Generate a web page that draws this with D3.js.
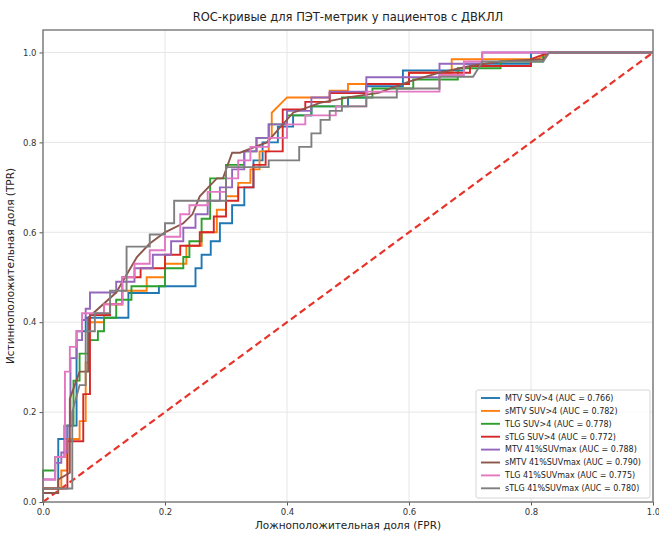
<!DOCTYPE html>
<html>
<head>
<meta charset="utf-8">
<script src="https://cdn.jsdelivr.net/npm/d3@7"></script>
<style>
  body { margin: 0; background: #fff; }
  text { font-family: "DejaVu Sans", sans-serif; }
</style>
</head>
<body>
<div id="chart"></div>
<script>
// ROC points, [fpr, tpr]
const mtvSuv4 = [[0,0],[0,0.03],[0.025,0.03],[0.025,0.14],[0.04,0.14],[0.04,0.17],[0.055,0.17],[0.055,0.38],[0.07,0.38],[0.07,0.41],[0.14,0.41],[0.14,0.465],[0.19,0.465],[0.19,0.48],[0.25,0.48],[0.25,0.52],[0.26,0.52],[0.26,0.55],[0.275,0.55],[0.275,0.58],[0.29,0.58],[0.29,0.62],[0.31,0.62],[0.31,0.66],[0.33,0.66],[0.33,0.7],[0.345,0.7],[0.345,0.76],[0.36,0.76],[0.36,0.8],[0.385,0.8],[0.385,0.835],[0.41,0.835],[0.41,0.86],[0.44,0.86],[0.44,0.88],[0.5,0.88],[0.5,0.9],[0.53,0.9],[0.53,0.925],[0.59,0.925],[0.59,0.96],[0.69,0.96],[0.69,0.975],[0.8,0.975],[0.8,1],[1,1]];
const smtvSuv4 = [[0,0],[0,0.03],[0.03,0.03],[0.03,0.07],[0.04,0.07],[0.04,0.14],[0.06,0.14],[0.06,0.18],[0.07,0.18],[0.07,0.31],[0.075,0.31],[0.075,0.4],[0.1,0.4],[0.1,0.44],[0.13,0.44],[0.13,0.47],[0.17,0.47],[0.17,0.5],[0.2,0.5],[0.2,0.53],[0.235,0.53],[0.235,0.57],[0.26,0.57],[0.26,0.6],[0.285,0.6],[0.285,0.65],[0.3,0.65],[0.3,0.68],[0.32,0.68],[0.32,0.71],[0.34,0.71],[0.34,0.74],[0.355,0.74],[0.355,0.78],[0.37,0.78],[0.37,0.81],[0.375,0.81],[0.375,0.866],[0.4,0.9],[0.47,0.9],[0.47,0.915],[0.5,0.915],[0.5,0.93],[0.6,0.93],[0.6,0.955],[0.67,0.955],[0.67,0.985],[0.81,0.985],[0.83,1],[1,1]];
const tlgSuv4 = [[0,0],[0,0.07],[0.02,0.07],[0.02,0.1],[0.035,0.1],[0.035,0.17],[0.05,0.17],[0.05,0.27],[0.06,0.27],[0.06,0.33],[0.075,0.33],[0.075,0.36],[0.09,0.36],[0.09,0.38],[0.1,0.38],[0.1,0.41],[0.12,0.41],[0.12,0.45],[0.145,0.45],[0.145,0.48],[0.2,0.48],[0.2,0.52],[0.23,0.52],[0.23,0.545],[0.24,0.545],[0.24,0.58],[0.26,0.58],[0.26,0.63],[0.274,0.63],[0.274,0.72],[0.3,0.72],[0.3,0.75],[0.33,0.75],[0.33,0.78],[0.35,0.78],[0.35,0.81],[0.37,0.81],[0.37,0.84],[0.4,0.84],[0.4,0.86],[0.44,0.86],[0.44,0.88],[0.49,0.88],[0.49,0.9],[0.54,0.9],[0.54,0.92],[0.607,0.92],[0.607,0.94],[0.68,0.94],[0.68,0.965],[0.75,0.965],[0.75,0.98],[0.82,0.98],[0.82,1],[1,1]];
const stlgSuv4 = [[0,0],[0,0.03],[0.04,0.03],[0.04,0.135],[0.066,0.135],[0.066,0.24],[0.077,0.24],[0.077,0.416],[0.11,0.416],[0.11,0.44],[0.13,0.44],[0.13,0.5],[0.16,0.5],[0.16,0.52],[0.2,0.52],[0.2,0.55],[0.225,0.55],[0.225,0.57],[0.257,0.57],[0.257,0.6],[0.28,0.6],[0.28,0.635],[0.3,0.635],[0.3,0.67],[0.32,0.67],[0.32,0.7],[0.345,0.7],[0.345,0.75],[0.365,0.75],[0.365,0.78],[0.393,0.78],[0.393,0.873],[0.43,0.873],[0.43,0.89],[0.47,0.89],[0.47,0.91],[0.53,0.91],[0.53,0.93],[0.6,0.93],[0.6,0.955],[0.7,0.955],[0.7,0.97],[0.8,0.97],[0.8,0.985],[0.83,1],[1,1]];
const mtv41 = [[0,0],[0,0.05],[0.02,0.05],[0.02,0.087],[0.03,0.087],[0.03,0.11],[0.04,0.11],[0.04,0.17],[0.045,0.17],[0.045,0.32],[0.055,0.32],[0.055,0.36],[0.064,0.36],[0.064,0.405],[0.07,0.405],[0.07,0.43],[0.077,0.43],[0.077,0.466],[0.12,0.466],[0.12,0.49],[0.15,0.49],[0.15,0.52],[0.18,0.52],[0.18,0.55],[0.21,0.55],[0.21,0.58],[0.23,0.58],[0.23,0.61],[0.25,0.61],[0.25,0.64],[0.27,0.64],[0.27,0.67],[0.29,0.67],[0.29,0.7],[0.31,0.7],[0.31,0.74],[0.33,0.74],[0.33,0.78],[0.35,0.78],[0.35,0.81],[0.37,0.81],[0.37,0.84],[0.4,0.84],[0.4,0.87],[0.44,0.87],[0.44,0.9],[0.47,0.9],[0.47,0.913],[0.53,0.913],[0.53,0.945],[0.65,0.945],[0.65,0.975],[0.72,0.975],[0.72,1],[1,1]];
const smtv41 = [[0,0],[0,0.02],[0.025,0.02],[0.025,0.05],[0.044,0.065],[0.044,0.23],[0.06,0.29],[0.074,0.29],[0.074,0.41],[0.12,0.466],[0.126,0.48],[0.154,0.545],[0.175,0.575],[0.2,0.6],[0.23,0.62],[0.245,0.64],[0.257,0.68],[0.285,0.72],[0.295,0.72],[0.31,0.777],[0.323,0.777],[0.367,0.8],[0.41,0.866],[0.454,0.888],[0.5,0.9],[0.55,0.91],[0.6,0.935],[0.65,0.955],[0.7,0.97],[0.75,0.98],[0.82,0.985],[0.83,1],[1,1]];
const tlg41 = [[0,0],[0,0.05],[0.02,0.05],[0.02,0.1],[0.036,0.1],[0.036,0.29],[0.044,0.29],[0.044,0.345],[0.055,0.345],[0.055,0.38],[0.064,0.38],[0.064,0.42],[0.1,0.42],[0.1,0.44],[0.13,0.44],[0.13,0.5],[0.15,0.5],[0.15,0.53],[0.175,0.53],[0.175,0.56],[0.2,0.56],[0.2,0.59],[0.225,0.59],[0.225,0.64],[0.24,0.64],[0.24,0.66],[0.27,0.66],[0.27,0.69],[0.3,0.69],[0.3,0.72],[0.32,0.72],[0.32,0.76],[0.34,0.76],[0.34,0.79],[0.37,0.79],[0.37,0.81],[0.4,0.81],[0.4,0.84],[0.43,0.84],[0.43,0.86],[0.48,0.86],[0.48,0.88],[0.53,0.88],[0.53,0.913],[0.65,0.913],[0.65,0.95],[0.69,0.95],[0.69,0.98],[0.72,0.98],[0.72,1],[1,1]];
const stlg41 = [[0,0],[0,0.03],[0.048,0.03],[0.048,0.2],[0.06,0.26],[0.07,0.26],[0.07,0.38],[0.085,0.38],[0.085,0.42],[0.11,0.42],[0.11,0.47],[0.137,0.47],[0.137,0.568],[0.175,0.568],[0.175,0.595],[0.2,0.595],[0.2,0.62],[0.215,0.62],[0.215,0.67],[0.3,0.67],[0.3,0.745],[0.37,0.745],[0.37,0.76],[0.42,0.76],[0.42,0.79],[0.44,0.79],[0.44,0.82],[0.455,0.82],[0.455,0.85],[0.47,0.85],[0.47,0.87],[0.49,0.87],[0.49,0.88],[0.53,0.88],[0.53,0.9],[0.58,0.9],[0.58,0.92],[0.65,0.92],[0.65,0.946],[0.705,0.946],[0.716,0.97],[0.72,0.98],[0.82,0.98],[0.83,1],[1,1]];

const seriesNames = ["MTV SUV>4", "sMTV SUV>4", "TLG SUV>4", "sTLG SUV>4",
  "MTV 41%SUVmax", "sMTV 41%SUVmax", "TLG 41%SUVmax", "sTLG 41%SUVmax"];
const aucValues = [0.766, 0.782, 0.778, 0.772, 0.788, 0.790, 0.775, 0.780];
const seriesPoints = [mtvSuv4, smtvSuv4, tlgSuv4, stlgSuv4, mtv41, smtv41, tlg41, stlg41];
const ticks = [0, 0.2, 0.4, 0.6, 0.8, 1.0];

const colors = ["#1f77b4", "#ff7f0e", "#2ca02c", "#d62728",
  "#9467bd", "#8c564b", "#e377c2", "#7f7f7f"];

const svgWidth = 659, svgHeight = 534;
const margin = {top: 30, right: 6, bottom: 32, left: 43};
const width = svgWidth - margin.left - margin.right;
const height = svgHeight - margin.top - margin.bottom;

const svg = d3.select("#chart").append("svg")
  .attr("width", svgWidth)
  .attr("height", svgHeight);

const x = d3.scaleLinear().domain([0, 1]).range([0, width]);
const y = d3.scaleLinear().domain([0, 1.05]).range([height, 0]);

const g = svg.append("g")
  .attr("transform", "translate(" + margin.left + "," + margin.top + ")");

// grid
g.append("g").selectAll("line").data(ticks).enter().append("line")
  .attr("x1", d => x(d)).attr("x2", d => x(d))
  .attr("y1", 0).attr("y2", height)
  .attr("stroke", "#e6e6e6").attr("stroke-width", 1);
g.append("g").selectAll("line").data(ticks).enter().append("line")
  .attr("x1", 0).attr("x2", width)
  .attr("y1", d => y(d)).attr("y2", d => y(d))
  .attr("stroke", "#e6e6e6").attr("stroke-width", 1);

// axes
const xAxis = g.append("g")
  .attr("transform", "translate(0," + height + ")")
  .call(d3.axisBottom(x).tickValues(ticks).tickFormat(d3.format(".1f")).tickSize(3.5).tickPadding(3));
const yAxis = g.append("g")
  .call(d3.axisLeft(y).tickValues(ticks).tickFormat(d3.format(".1f")).tickSize(3.5).tickPadding(3));
[xAxis, yAxis].forEach(a => {
  a.select(".domain").remove();
  a.selectAll(".tick line").attr("stroke", "#555");
  a.selectAll(".tick text").attr("fill", "#333").style("font-size", "8.5px");
});

// chance line
g.append("line")
  .attr("x1", x(0)).attr("y1", y(0))
  .attr("x2", x(1)).attr("y2", y(1))
  .attr("stroke", "#e8332a").attr("stroke-width", 2.2)
  .attr("stroke-dasharray", "7,4");

const line = d3.line().x(d => x(d[0])).y(d => y(d[1]));

g.selectAll(".roc")
  .data(seriesPoints)
  .enter().append("path")
    .attr("class", "roc")
    .attr("d", line)
    .attr("fill", "none")
    .attr("stroke", (d, i) => colors[i])
    .attr("stroke-width", 1.9)
    .attr("stroke-linejoin", "miter");

// frame
g.append("rect")
  .attr("width", width).attr("height", height)
  .attr("fill", "none").attr("stroke", "#777").attr("stroke-width", 1.4);

// title and labels
svg.append("text")
  .attr("x", margin.left + width / 2).attr("y", 21)
  .attr("text-anchor", "middle")
  .style("font-size", "11.5px").attr("fill", "#222")
  .text("ROC-кривые для ПЭТ-метрик у пациентов с ДВКЛЛ");

svg.append("text")
  .attr("x", margin.left + width / 2).attr("y", 529)
  .attr("text-anchor", "middle")
  .style("font-size", "10.5px").attr("fill", "#222")
  .text("Ложноположительная доля (FPR)");

svg.append("text")
  .attr("transform", "translate(14," + (margin.top + height / 2) + ") rotate(-90)")
  .attr("text-anchor", "middle")
  .style("font-size", "10.5px").attr("fill", "#222")
  .text("Истинноположительная доля (TPR)");

// legend
const legend = g.append("g")
  .attr("transform", "translate(" + (width - 177) + "," + (height - 112) + ")");
legend.append("rect")
  .attr("width", 174).attr("height", 108).attr("rx", 2)
  .attr("fill", "#fff").attr("fill-opacity", 0.85)
  .attr("stroke", "#ccc").attr("stroke-width", 0.8);
const entry = legend.selectAll(".entry")
  .data(seriesNames)
  .enter().append("g")
    .attr("class", "entry")
    .attr("transform", (d, i) => "translate(5," + (8 + i * 12.9) + ")");
entry.append("line")
  .attr("x1", 0).attr("x2", 19)
  .attr("stroke", (d, i) => colors[i]).attr("stroke-width", 1.9);
entry.append("text")
  .attr("x", 24).attr("dy", "0.35em")
  .style("font-size", "8px").attr("fill", "#222")
  .text((d, i) => d + " (AUC = " + aucValues[i].toFixed(3) + ")");
</script>
</body>
</html>
